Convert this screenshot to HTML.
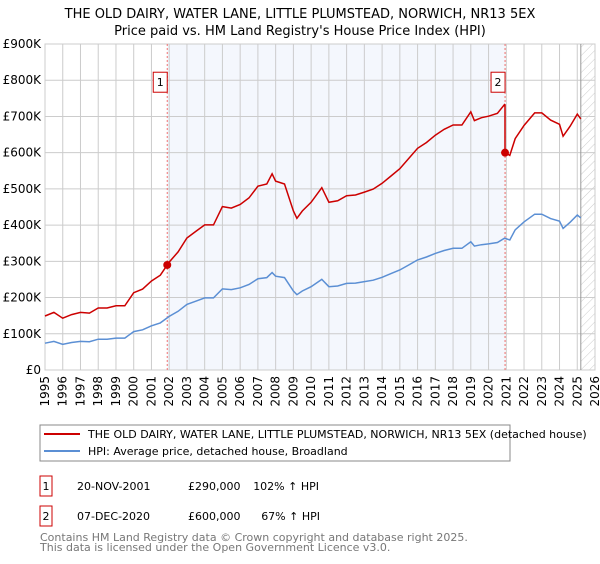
<!DOCTYPE html>
<html><head><meta charset="utf-8"><style>
body{margin:0;background:#fff;width:600px;height:560px;overflow:hidden;font-family:"DejaVu Sans","Liberation Sans",sans-serif;}
svg text{font-family:"DejaVu Sans","Liberation Sans",sans-serif;}
</style></head><body>
<svg id="chart" width="600" height="560" xmlns="http://www.w3.org/2000/svg">
<text x="300" y="18" text-anchor="middle" font-size="13" fill="#000">THE OLD DAIRY, WATER LANE, LITTLE PLUMSTEAD, NORWICH, NR13 5EX</text>
<text x="300" y="35" text-anchor="middle" font-size="13" fill="#000">Price paid vs. HM Land Registry's House Price Index (HPI)</text>
<g id="plot"></g>
<rect x="40" y="425" width="470" height="36" fill="#fff" stroke="#888"/>
<line x1="44" y1="434" x2="80" y2="434" stroke="#cc0000" stroke-width="2"/>
<text x="88" y="438" font-size="11">THE OLD DAIRY, WATER LANE, LITTLE PLUMSTEAD, NORWICH, NR13 5EX (detached house)</text>
<line x1="44" y1="451" x2="80" y2="451" stroke="#5b8fd4" stroke-width="2"/>
<text x="88" y="455" font-size="11">HPI: Average price, detached house, Broadland</text>
<rect x="40" y="476" width="12" height="20" fill="#fff" stroke="#cc0000"/>
<text x="46" y="490" font-size="11" text-anchor="middle">1</text>
<text x="77" y="490" font-size="11">20-NOV-2001</text>
<text x="188" y="490" font-size="11">£290,000</text>
<text x="319" y="490" font-size="11" text-anchor="end">102% ↑ HPI</text>
<rect x="40" y="506" width="12" height="20" fill="#fff" stroke="#cc0000"/>
<text x="46" y="520" font-size="11" text-anchor="middle">2</text>
<text x="77" y="520" font-size="11">07-DEC-2020</text>
<text x="188" y="520" font-size="11">£600,000</text>
<text x="320" y="520" font-size="11" text-anchor="end">67% ↑ HPI</text>
<text x="40" y="541" font-size="11" fill="#777">Contains HM Land Registry data © Crown copyright and database right 2025.</text>
<text x="40" y="551" font-size="11" fill="#777">This data is licensed under the Open Government Licence v3.0.</text>
</svg>
<script>
const hpiYears=[1995,1995.5,1996,1996.5,1997,1997.5,1998,1998.5,1999,1999.5,2000,2000.5,2001,2001.5,2002,2002.5,2003,2003.5,2004,2004.5,2005,2005.5,2006,2006.5,2007,2007.5,2007.8,2008,2008.5,2009,2009.2,2009.5,2010,2010.6,2011,2011.5,2012,2012.5,2013,2013.5,2014,2014.5,2015,2015.5,2016,2016.5,2017,2017.5,2018,2018.5,2019,2019.2,2019.6,2020,2020.5,2020.9,2021.2,2021.5,2022,2022.6,2023,2023.5,2024,2024.2,2024.6,2025,2025.2];
const hpiValues=[74,79,71,76,79,78,85,85,88,88,106,111,122,130,148,162,181,190,199,199,224,222,227,236,252,255,269,259,255,218,208,218,230,250,230,232,239,240,244,248,256,266,276,290,304,312,322,330,336,336,354,342,346,348,352,364,359,387,409,430,430,418,411,391,408,428,420];
const saleYears=[2001.89,2020.93];
const salePrices=[290,600];
const yTicks=[0,100,200,300,400,500,600,700,800,900];
const yTickLabels=["£0","£100K","£200K","£300K","£400K","£500K","£600K","£700K","£800K","£900K"];
const xTicks=[1995,1996,1997,1998,1999,2000,2001,2002,2003,2004,2005,2006,2007,2008,2009,2010,2011,2012,2013,2014,2015,2016,2017,2018,2019,2020,2021,2022,2023,2024,2025,2026];
const dataEnd=2025.2;

const L=45,R=595,T=44,B=370,x0=1995,x1=2026,yMax=900;
const X=y=>L+(y-x0)/(x1-x0)*(R-L);
const Y=v=>B-v/yMax*(B-T);
const NS="http://www.w3.org/2000/svg";
const g=document.getElementById('plot');
function mk(t,a,p){const e=document.createElementNS(NS,t);for(const k in a)e.setAttribute(k,a[k]);(p||g).appendChild(e);return e;}
function hpiAt(t){for(let i=0;i<hpiYears.length-1;i++){if(t<=hpiYears[i+1]){const f=(t-hpiYears[i])/(hpiYears[i+1]-hpiYears[i]);return hpiValues[i]+f*(hpiValues[i+1]-hpiValues[i]);}}return hpiValues[hpiValues.length-1];}
let sh=mk('rect',{x:X(saleYears[0]),y:T,width:X(saleYears[1])-X(saleYears[0]),height:B-T,fill:'#f4f7fd'});


const defs=mk('defs',{});
const pat=mk('pattern',{id:'hatch',width:6,height:6,patternUnits:'userSpaceOnUse',patternTransform:'rotate(45)'},defs);
mk('line',{x1:0,y1:0,x2:0,y2:6,stroke:'#ccc','stroke-width':1},pat);
let hr=mk('rect',{x:X(dataEnd),y:T,width:R-X(dataEnd),height:B-T,fill:'url(#hatch)'});


yTicks.forEach((v,i)=>{
 let l=mk('line',{x1:L,x2:R,y1:Y(v),y2:Y(v),stroke:'#ccc'});
 
 
 let t=mk('text',{x:L-4,y:Y(v)+4,'text-anchor':'end','font-size':12});
 
 
 t.textContent=yTickLabels[i];
});
xTicks.forEach(yr=>{
 let l=mk('line',{x1:X(yr),x2:X(yr),y1:T,y2:B,stroke:'#ccc'});
 
 
 let t=mk('text',{x:X(yr)+4,y:B+6,'text-anchor':'end','font-size':12,transform:`rotate(-90 ${X(yr)+4} ${B+6})`});
 
 
 t.textContent=yr;
});
let bd=mk('rect',{x:L,y:T,width:R-L,height:B-T,fill:'none',stroke:'#ccc'});


let el=mk('line',{x1:X(dataEnd),x2:X(dataEnd),y1:T,y2:B,stroke:'#999'});


saleYears.forEach((s,i)=>{
 let l=mk('line',{x1:X(s),x2:X(s),y1:T,y2:B,stroke:'#f07070','stroke-dasharray':'2,2'});
 
 
 let r=mk('rect',{x:X(s)-14,y:Y(800)-8,width:14,height:20,fill:'#fff',stroke:'#cc0000'});
 
 
 let t=mk('text',{x:X(s)-7,y:Y(800)+6,'text-anchor':'middle','font-size':11});
 
 
 t.textContent=String(i+1);
});
let hp=hpiYears.map((t,i)=>X(t).toFixed(1)+','+Y(hpiValues[i]).toFixed(1)).join(' ');
let hl=mk('polyline',{points:hp,fill:'none',stroke:'#5b8fd4','stroke-width':1.5});


const r1=salePrices[0]/hpiAt(saleYears[0]), r2=salePrices[1]/hpiAt(saleYears[1]);
let pts=[];
hpiYears.forEach((t,i)=>{ if(t<saleYears[1]) pts.push([t,hpiValues[i]*r1]); });
pts.push([saleYears[1],hpiAt(saleYears[1])*r1]);
pts.push([saleYears[1],salePrices[1]]);
hpiYears.forEach((t,i)=>{ if(t>saleYears[1]) pts.push([t,hpiValues[i]*r2]); });
let pl=mk('polyline',{points:pts.map(p=>X(p[0]).toFixed(1)+','+Y(p[1]).toFixed(1)).join(' '),fill:'none',stroke:'#cc0000','stroke-width':1.5});


saleYears.forEach((s,i)=>{
 let c=mk('circle',{cx:X(s),cy:Y(salePrices[i]),r:4,fill:'#cc0000'});
 
 
});
</script>
</body></html>
